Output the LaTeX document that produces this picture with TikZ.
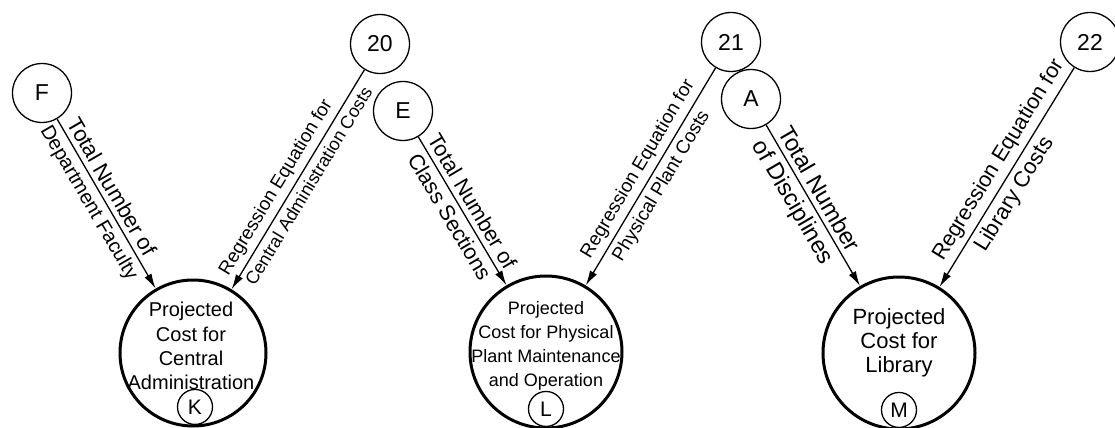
\documentclass[tikz,border=0pt]{standalone}
\usepackage{fontspec}
\setmainfont{Liberation Sans}
\usepackage{tikz}
\usetikzlibrary{arrows.meta}
\colorlet{ink}{black}

\begin{document}
\begin{tikzpicture}[
  x=0.5pt,
  y=-0.5pt,
  source node/.style={
    circle,
    draw=ink,
    line width=0.65pt,
    minimum size=29.5pt,
    inner sep=0pt,
    font=\fontsize{11.5}{14}\selectfont,
  },
  cost node/.style={
    circle,
    draw=ink,
    line width=1.5pt,
    minimum size=#1,
    inner sep=0pt,
  },
  cost node/.default=74pt,
  cost text/.style={
    align=center,
    inner sep=0pt,
    font=\fontsize{#1}{12.1}\selectfont,
  },
  tag node/.style={
    circle,
    draw=ink,
    line width=0.65pt,
    minimum size=17.5pt,
    inner sep=0pt,
    anchor=south,
    font=\fontsize{10.5}{12}\selectfont,
  },
  flow/.style={
    draw=ink,
    line width=0.65pt,
    -{Latex[length=7.5pt,width=4pt]},
  },
  flow label/.style={
    sloped,
    inner sep=2.5pt,
    font=\fontsize{#1}{#1}\selectfont,
  },
  flow label/.default=10.5,
]
\useasboundingbox (0,0) rectangle (1115,428);
\begin{scope}
\node[source node] (F) at (42,93) {F};
\node[source node] (n20) at (380,44) {20};
\node[cost node=73pt] (K) at (193,353) {};
\node[cost text=10] (K-text) at ([xshift=-1pt,yshift=3.5pt]K.center) {Projected\\Cost for\\Central\\Administration};
\node[tag node] (K-tag) at ([xshift=1pt,yshift=1.2pt]K.south) {K};
\draw[flow] (F) -- node[flow label=11, above, pos=.44] {Total Number of} node[flow label=10, below, pos=.45] {Department Faculty} (K);
\draw[flow] (n20) -- node[flow label=9.4, above, pos=.57] {Regression Equation for} node[flow label=9, below, pos=.5] {Central Administration Costs} (K);
\end{scope}
\begin{scope}
\node[source node] (E) at (403,111) {E};
\node[source node] (n21) at (731,42) {21};
\node[cost node=76pt] (L) at (546,352) {};
\node[cost text=9] (L-text) at ([yshift=3pt]L.center) {Projected\\Cost for Physical\\Plant Maintenance\\and Operation};
\node[tag node] (L-tag) at ([yshift=1.2pt]L.south) {L};
\draw[flow] (E) -- node[flow label=10.8, above, pos=.48] {Total Number of} node[flow label=10.8, below, pos=.49] {Class Sections} (L);
\draw[flow] (n21) -- node[flow label=9.5, above, pos=.5] {Regression Equation for} node[flow label=9.4, below, pos=.51] {Physical Plant Costs} (L);
\end{scope}
\begin{scope}
\node[source node] (A) at (751,99) {A};
\node[source node] (n22) at (1090,42) {22};
\node[cost node=76pt] (M) at (899,353) {};
\node[cost text=11] (M-text) at ([yshift=5pt]M.center) {Projected\\Cost for\\Library};
\node[tag node] (M-tag) at ([yshift=1.2pt]M.south) {M};
\draw[flow] (A) -- node[flow label=11.8, above, pos=.44] {Total Number} node[flow label=11.8, below, pos=.43] {of Disciplines} (M);
\draw[flow] (n22) -- node[flow label=10.8, above, pos=.46] {Regression Equation for} node[flow label=11, below, pos=.54] {Library Costs} (M);
\end{scope}
\end{tikzpicture}
\end{document}
